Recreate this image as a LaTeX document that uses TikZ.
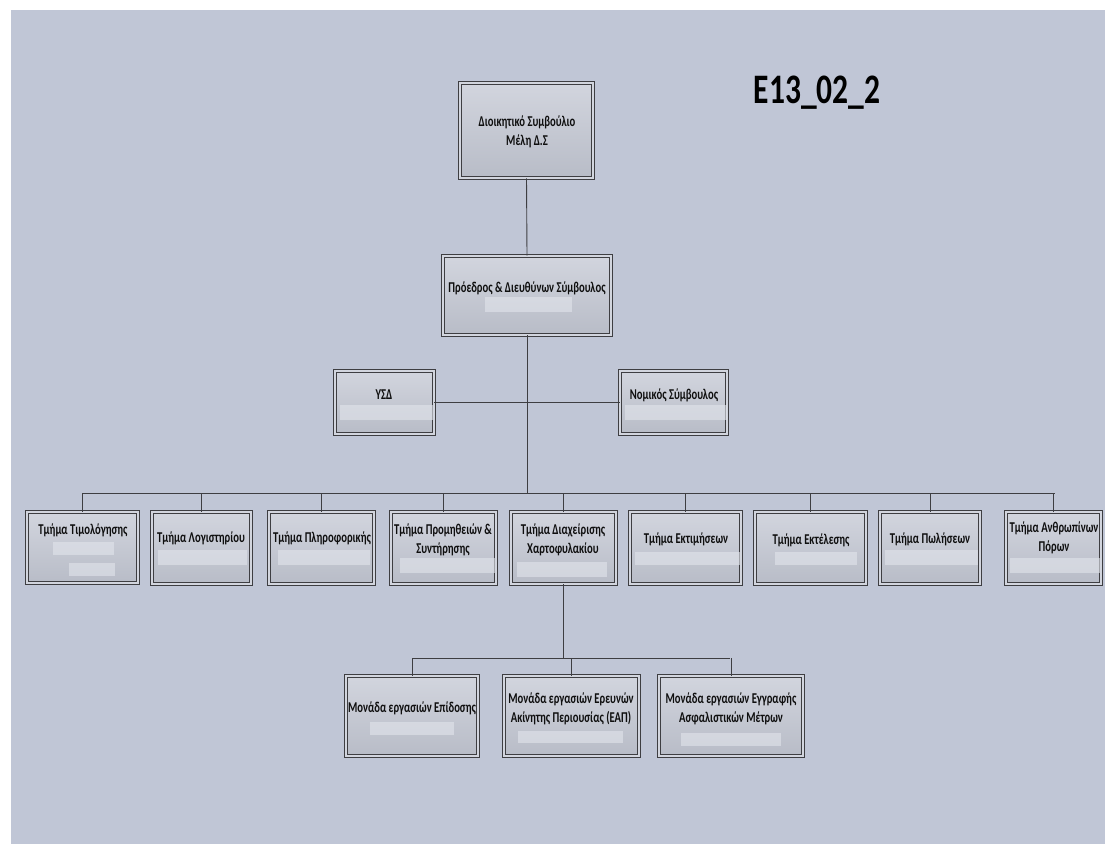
\documentclass[tikz,border=0pt]{standalone}
\usepackage{fontspec}
\setmainfont{Carlito}[FakeStretch=0.75]
\newfontfamily\lblfont{Carlito}[FakeStretch=0.71]
\usetikzlibrary{shadows}
\definecolor{pagebg}{RGB}{192,198,214}
\definecolor{boxtop}{RGB}{210,213,222}
\definecolor{boxbot}{RGB}{184,188,199}
\definecolor{edge}{RGB}{62,62,66}
\definecolor{ink}{RGB}{15,15,15}
\definecolor{patch}{RGB}{226,229,236}
\tikzset{
  orgbox/.style={draw=edge, line width=0.8pt, double=boxtop, double distance=2.4pt,
    top color=boxtop, bottom color=boxbot, inner sep=0pt,
    drop shadow={shadow xshift=2pt, shadow yshift=-2pt, fill=black!55, opacity=0.5}},
  lbl/.style={text=ink, font=\lblfont\fontsize{15}{19}\selectfont\bfseries, align=center, inner sep=0pt},
  wire/.style={draw=edge, line width=0.9pt},
  blank/.style={fill=patch, opacity=0.6},
}
% box given by its outer corners x1,y1,x2,y2
\newcommand\orgbox[5]{%
  \node[orgbox, minimum width={#4-#2-4}, minimum height={#5-#3-4}]
    (#1) at ({(#2+#4)/2},{(#3+#5)/2}) {};}
\begin{document}
\begin{tikzpicture}[x=1pt, y=-1pt]
\useasboundingbox (0,0) rectangle (1105,844);
\fill[white] (0,0) rectangle (1105,844);
\fill[pagebg] (11,10) rectangle (1105,844);

% boxes
\orgbox{board}{458}{81}{595}{180}
\orgbox{ceo}{441}{254}{613}{337}
\orgbox{ysd}{333}{369}{436}{436}
\orgbox{legal}{618}{369}{729}{436}
\orgbox{d1}{25}{510}{140}{585}
\orgbox{d2}{150}{510}{253}{586}
\orgbox{d3}{267}{510}{376}{586}
\orgbox{d4}{389}{510}{498}{586}
\orgbox{d5}{509}{510}{618}{586}
\orgbox{d6}{628}{510}{743}{586}
\orgbox{d7}{753}{510}{868}{586}
\orgbox{d8}{878}{510}{982}{586}
\orgbox{d9}{1004}{510}{1103}{586}
\orgbox{u1}{344}{674}{480}{758}
\orgbox{u2}{502}{674}{641}{758}
\orgbox{u3}{657}{674}{805}{758}

% light fields inside the boxes
\fill[blank] (485,297) rectangle (572,312);
\fill[blank] (340,405) rectangle (433,420);
\fill[blank] (625,405) rectangle (727,420);
\fill[blank] (53,542) rectangle (114,555);
\fill[blank] (69,563) rectangle (115,576);
\fill[blank] (158,550) rectangle (247,565);
\fill[blank] (278,550) rectangle (370,565);
\fill[blank] (400,558) rectangle (495,573);
\fill[blank] (517,562) rectangle (607,577);
\fill[blank] (635,552) rectangle (740,565);
\fill[blank] (775,552) rectangle (857,565);
\fill[blank] (885,550) rectangle (978,565);
\fill[blank] (1010,558) rectangle (1100,573);
\fill[blank] (370,722) rectangle (454,735);
\fill[blank] (518,731) rectangle (623,743);
\fill[blank] (681,733) rectangle (781,746);

% labels
\node[lbl] (tboard) at (527,132) {Διοικητικό Συμβούλιο\\Μέλη Δ.Σ};
\node[lbl] (tceo) at (527,288) {Πρόεδρος \& Διευθύνων Σύμβουλος};
\node[lbl] (tysd) at (384,395) {ΥΣΔ};
\node[lbl] (tlegal) at (674,395) {Νομικός Σύμβουλος};
\node[lbl] (td1) at (83,530) {Τμήμα Τιμολόγησης};
\node[lbl] (td2) at (201,538) {Τμήμα Λογιστηρίου};
\node[lbl] (td3) at (322,538) {Τμήμα Πληροφορικής};
\node[lbl] (td4) at (443,540) {Τμήμα Προμηθειών \&\\Συντήρησης};
\node[lbl] (td5) at (563,540) {Τμήμα Διαχείρισης\\Χαρτοφυλακίου};
\node[lbl] (td6) at (686,539) {Τμήμα Εκτιμήσεων};
\node[lbl] (td7) at (811,540) {Τμήμα Εκτέλεσης};
\node[lbl] (td8) at (930,539) {Τμήμα Πωλήσεων};
\node[lbl] (td9) at (1054,538) {Τμήμα Ανθρωπίνων\\Πόρων};
\node[lbl] (tu1) at (412,708) {Μονάδα εργασιών Επίδοσης};
\node[lbl] (tu2) at (571,709) {Μονάδα εργασιών Ερευνών\\Ακίνητης Περιουσίας (ΕΑΠ)};
\node[lbl] (tu3) at (731,708.5) {Μονάδα εργασιών Εγγραφής\\Ασφαλιστικών Μέτρων};
\node[text=black, font=\fontsize{42}{42}\bfseries, anchor=base, inner sep=0pt]
  (code) at (817,103) {E13\_02\_2};

% connectors
\coordinate (busL) at (82,493);
\coordinate (busR) at (1055,493);
\coordinate (ubusL) at (413,658);
\coordinate (ubusR) at (730,658);
\draw[wire] (board.south) -- (ceo.north);
\draw[wire] (ceo.south) -- (ceo.south |- busL);
\draw[wire] (ysd.east) -- (legal.west);
\draw[wire] (busL) -- (busR);
\foreach \d in {d1,d2,d3,d4,d5,d6,d7,d8,d9}
  \draw[wire] (\d.north) -- (\d.north |- busL);
\draw[wire] (d5.south) -- (d5.south |- ubusL);
\draw[wire] (ubusL) -- (ubusR);
\foreach \u in {u1,u2,u3}
  \draw[wire] (\u.north) -- (\u.north |- ubusL);
\end{tikzpicture}
\end{document}
